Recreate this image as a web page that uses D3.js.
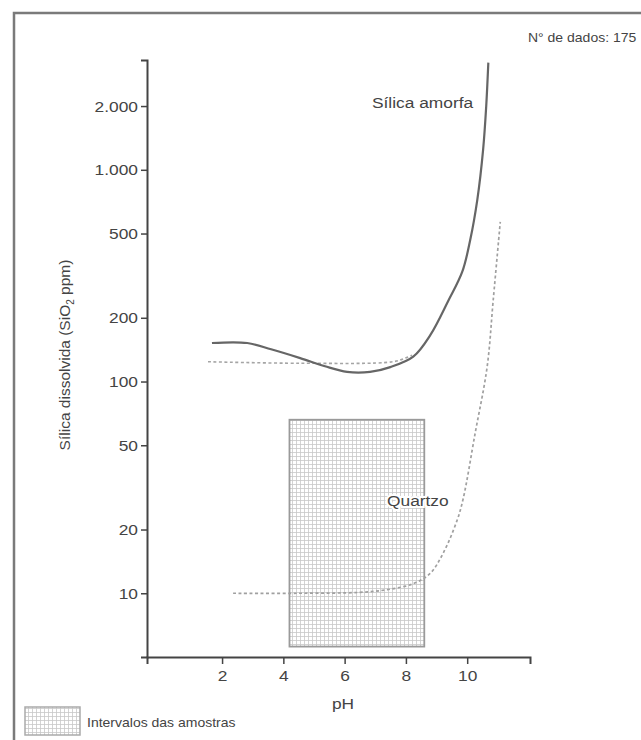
<!DOCTYPE html>
<html><head><meta charset="utf-8">
<script src="https://cdn.jsdelivr.net/npm/d3@7"></script>
<style>
html,body{margin:0;padding:0;background:#fff;}
svg{display:block;font-family:"Liberation Sans",Arial,sans-serif;}
</style></head>
<body>
<svg id="c" width="641" height="740"></svg>
<script>
// ---- data ----
const amorphousPH   = [1.67, 2.82, 3.6, 4.55, 5.36, 6.08, 6.83, 7.49, 8.24, 8.8, 9.38, 9.84, 10.1, 10.33, 10.52, 10.62, 10.69];
const amorphousSiO2 = [152, 152, 142, 129, 118, 111, 111, 117, 131, 166, 240, 330, 467, 721, 1245, 1986, 3206];
const amorphousDashPH   = [1.54, 4.55, 7.58, 7.98, 8.2];
const amorphousDashSiO2 = [124, 122, 124, 129, 133];
const quartzPH   = [2.36, 4.5, 6.5, 7.39, 8.24, 8.79, 9.22, 9.67, 9.87, 10.26, 10.65, 10.85, 11.08];
const quartzSiO2 = [10, 10, 10.1, 10.4, 11.1, 12.4, 15.5, 22.1, 28, 57, 117, 243, 568];
const sampleRangePH   = [4.2, 8.6];
const sampleRangeSiO2 = [5.6, 66];
const xTicks = [2, 4, 6, 8, 10];
const yTicks = [10, 20, 50, 100, 200, 500, 1000, 2000];
const yTickLabels = ["10", "20", "50", "100", "200", "500", "1.000", "2.000"];
const xTitle = "pH";
const curveLabels = ["Sílica amorfa", "Quartzo"];
const countLabel = "N° de dados: 175";
const legendLabel = "Intervalos das amostras";

// ---- chart ----
const svg = d3.select("#c");
const SX = 1.12;
const stretch = sel => sel.each(function(){
  const t = d3.select(this);
  const x = +t.attr("x") || 0, y = +t.attr("y") || 0;
  t.attr("transform", `translate(${x},${y}) scale(${SX},1) translate(${-x},${-y})`);
});

const x = d3.scaleLinear().domain([-0.45, 12.05]).range([147, 530]);
const y = d3.scaleLog().domain([5, 3300]).range([657, 60]);

// pattern
const defs = svg.append("defs");
const pat = defs.append("pattern").attr("id","grid").attr("patternUnits","userSpaceOnUse")
  .attr("width",4).attr("height",4);
pat.append("rect").attr("width",4).attr("height",4).attr("fill","#fff");
pat.append("path").attr("d","M0,0.5H4M0.5,0V4").attr("stroke","#c8c8c8").attr("stroke-width",0.8);

// frame
svg.append("rect").attr("x",14).attr("y",13).attr("width",700).attr("height",800)
  .attr("fill","none").attr("stroke","#7a7a7a").attr("stroke-width",2.5);

// sample range rectangle
svg.append("rect")
  .attr("x", x(sampleRangePH[0])).attr("y", y(sampleRangeSiO2[1]))
  .attr("width", x(sampleRangePH[1]) - x(sampleRangePH[0]))
  .attr("height", y(sampleRangeSiO2[0]) - y(sampleRangeSiO2[1]))
  .attr("fill","url(#grid)").attr("stroke","#9a9a9a").attr("stroke-width",1.8);

const line = d3.line().x(d=>x(d[0])).y(d=>y(d[1])).curve(d3.curveCatmullRom.alpha(0.5));

svg.append("path").datum(amorphousDashPH.map((p,i)=>[p,amorphousDashSiO2[i]]))
  .attr("d",line).attr("fill","none").attr("stroke","#a5a5a5").attr("stroke-width",1.6)
  .attr("stroke-dasharray","3,2.5");
svg.append("path").datum(quartzPH.map((p,i)=>[p,quartzSiO2[i]]))
  .attr("d",line).attr("fill","none").attr("stroke","#a0a0a0").attr("stroke-width",1.7)
  .attr("stroke-dasharray","3,2.5");
svg.append("path").datum(amorphousPH.map((p,i)=>[p,amorphousSiO2[i]]))
  .attr("d",line).attr("fill","none").attr("stroke","#666").attr("stroke-width",2.2);

// axes
const gx = svg.append("g").attr("transform","translate(0,657)")
  .call(d3.axisBottom(x).tickValues(xTicks).tickSizeOuter(0).tickSize(7).tickPadding(6).tickFormat(d3.format("d")));
const gy = svg.append("g").attr("transform","translate(147,0)")
  .call(d3.axisLeft(y).tickValues(yTicks).tickSizeOuter(0).tickSize(6).tickPadding(3)
    .tickFormat((d,i)=>yTickLabels[i]));
[gx,gy].forEach(g=>{
  g.select(".domain").attr("stroke","#444").attr("stroke-width",2);
  g.selectAll(".tick line").attr("stroke","#444").attr("stroke-width",1.5);
  g.selectAll(".tick text").attr("fill","#444").attr("font-size",15.5).attr("font-family","Liberation Sans, Arial, sans-serif").call(stretch);
});

// axis titles
svg.append("text").attr("x",343).attr("y",709).attr("text-anchor","middle")
  .attr("font-size",15.5).attr("fill","#444").text(xTitle).call(stretch);
const yt = svg.append("text").attr("transform","translate(70,355) rotate(-90)")
  .attr("text-anchor","middle").attr("font-size",15.5).attr("fill","#444");
yt.append("tspan").text("Sílica dissolvida (SiO");
yt.append("tspan").attr("font-size",10).attr("dy",4).text("2");
yt.append("tspan").attr("dy",-4).text(" ppm)");

// curve labels
svg.append("text").attr("x",372).attr("y",108).attr("font-size",15.5).attr("fill","#444")
  .text(curveLabels[0]).call(stretch);
svg.append("text").attr("x",387).attr("y",506).attr("font-size",15.5).attr("fill","#444")
  .attr("stroke","#fff").attr("stroke-width",4).attr("paint-order","stroke")
  .text(curveLabels[1]).call(stretch);

// count
svg.append("text").attr("x",528).attr("y",42).attr("font-size",12.5).attr("fill","#444")
  .text(countLabel).call(stretch);

// legend
svg.append("rect").attr("x",25).attr("y",707).attr("width",55).attr("height",28)
  .attr("fill","url(#grid)").attr("stroke","#aaa").attr("stroke-width",1.5);
svg.append("text").attr("x",87).attr("y",727).attr("font-size",12.5).attr("fill","#444")
  .text(legendLabel).call(stretch);
</script>
</body></html>
